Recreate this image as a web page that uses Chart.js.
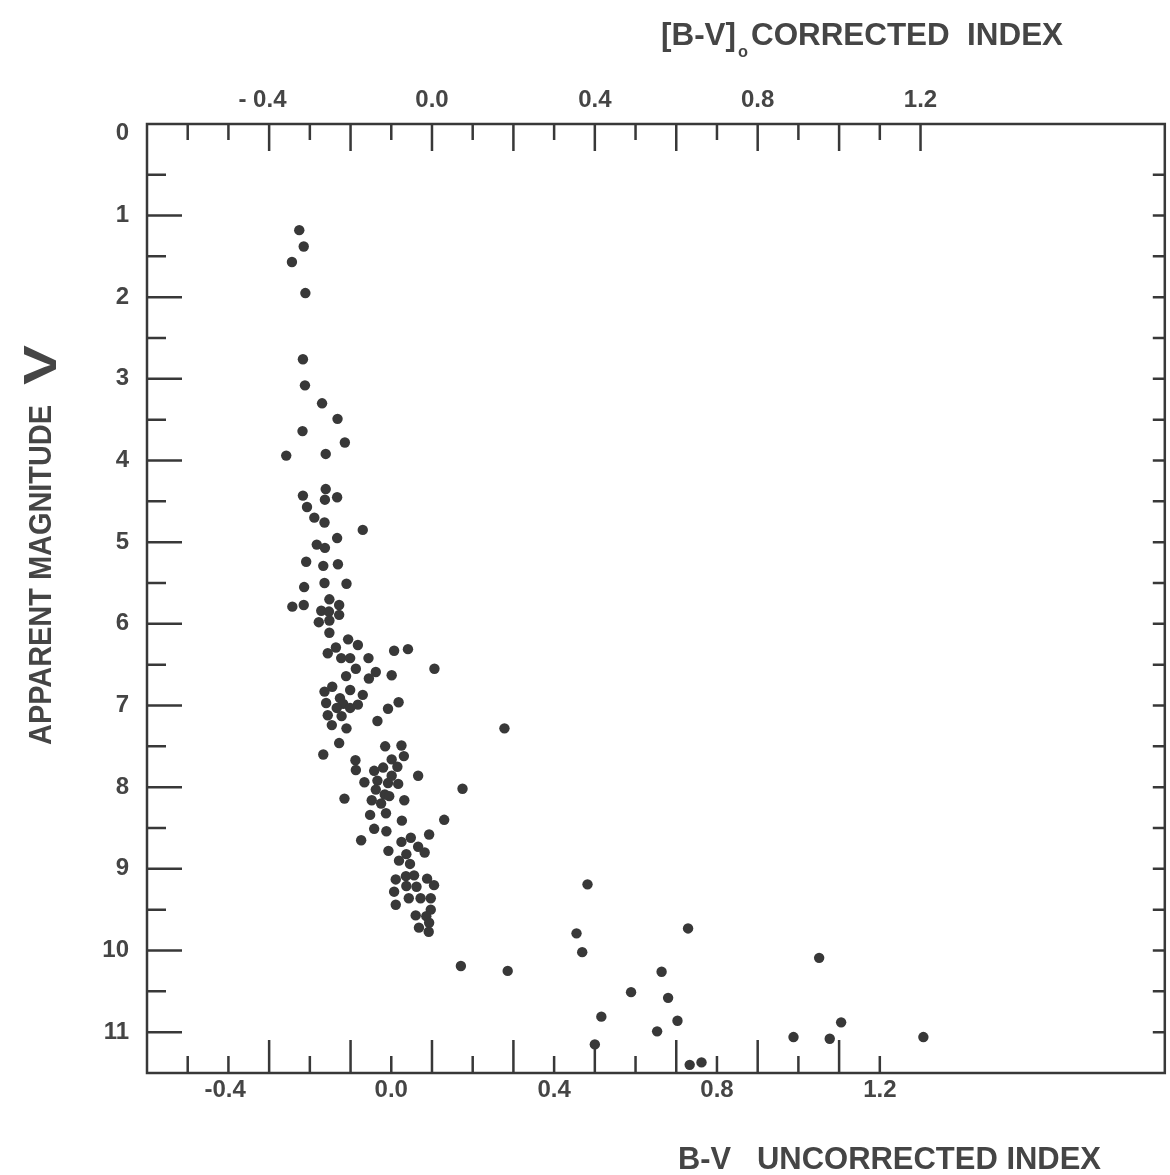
<!DOCTYPE html>
<html>
<head>
<meta charset="utf-8">
<script src="https://cdn.jsdelivr.net/npm/chart.js@4.4.1/dist/chart.umd.min.js"></script>
<style>
  html, body { margin: 0; padding: 0; background: #fff; }
</style>
</head>
<body>
<canvas id="hrChart" width="1170" height="1175"></canvas>
<script>
// B-V (uncorrected) colour index and apparent magnitude V, one entry per star
var colorIndex = [
  -0.226, -0.215, -0.244, -0.211, -0.217, -0.212, -0.170, -0.132, -0.218, -0.114,
  -0.258, -0.161, -0.161, -0.217, -0.163, -0.133, -0.207, -0.189, -0.164, -0.070,
  -0.133, -0.183, -0.163, -0.209, -0.167, -0.131, -0.214, -0.164, -0.110, -0.243,
  -0.215, -0.152, -0.128, -0.172, -0.153, -0.128, -0.178, -0.152, -0.152, -0.106,
  -0.082, -0.136, -0.156, 0.007, 0.041, -0.123, -0.101, -0.056, 0.106, -0.087,
  -0.111, -0.038, -0.055, 0.001, -0.145, -0.164, -0.101, -0.070, -0.160, -0.126,
  -0.118, -0.082, -0.134, -0.101, 0.018, -0.008, -0.156, -0.122, -0.034, -0.146,
  -0.110, -0.128, -0.167, -0.015, 0.025, -0.088, 0.001, 0.031, -0.087, -0.042,
  -0.020, 0.015, -0.066, -0.034, 0.001, -0.008, 0.017, 0.066, -0.115, -0.038,
  -0.016, -0.005, -0.048, -0.025, 0.032, -0.052, -0.013, 0.026, -0.042, -0.012,
  0.093, -0.074, 0.025, 0.048, 0.066, -0.007, 0.037, 0.082, 0.019, 0.046,
  0.011, 0.036, 0.056, 0.088, 0.037, 0.062, 0.105, 0.007, 0.043, 0.072,
  0.097, 0.011, 0.097, 0.060, 0.086, 0.093, 0.068, 0.092,
  0.278, 0.175, 0.130, 0.482, 0.455, 0.469, 0.171, 0.286, 0.729, 0.664,
  0.589, 0.680, 0.516, 0.703, 0.653, 0.500, 0.733, 0.762, 1.051, 1.105,
  0.988, 1.077, 1.307
];
var magnitude = [
  1.18, 1.38, 1.57, 1.95, 2.76, 3.08, 3.30, 3.49, 3.64, 3.78,
  3.94, 3.92, 4.35, 4.43, 4.48, 4.45, 4.57, 4.70, 4.76, 4.85,
  4.95, 5.03, 5.07, 5.24, 5.29, 5.27, 5.55, 5.50, 5.51, 5.79,
  5.77, 5.70, 5.77, 5.84, 5.85, 5.89, 5.98, 5.96, 6.11, 6.19,
  6.26, 6.29, 6.36, 6.33, 6.31, 6.42, 6.42, 6.42, 6.55, 6.55,
  6.64, 6.59, 6.67, 6.63, 6.77, 6.83, 6.81, 6.87, 6.97, 6.91,
  6.98, 6.99, 7.03, 7.03, 6.96, 7.04, 7.12, 7.13, 7.19, 7.24,
  7.28, 7.46, 7.60, 7.50, 7.49, 7.67, 7.66, 7.62, 7.79, 7.80,
  7.76, 7.75, 7.94, 7.92, 7.86, 7.95, 7.96, 7.86, 8.14, 8.03,
  8.09, 8.11, 8.16, 8.20, 8.16, 8.34, 8.32, 8.41, 8.51, 8.54,
  8.58, 8.65, 8.67, 8.62, 8.73, 8.78, 8.82, 8.80, 8.90, 8.94,
  9.13, 9.09, 9.08, 9.12, 9.21, 9.22, 9.20, 9.28, 9.36, 9.36,
  9.36, 9.44, 9.50, 9.57, 9.58, 9.66, 9.72, 9.77,
  7.28, 8.02, 8.40, 9.19, 9.79, 10.02, 10.19, 10.25, 9.73, 10.26,
  10.51, 10.58, 10.81, 10.86, 10.99, 11.15, 11.40, 11.37, 10.09, 10.88,
  11.06, 11.08, 11.06
];

// colour excess: corrected index = uncorrected - reddening
var reddening = 0.1;

// bottom axis (uncorrected)
var bottomTicks = [-0.5, -0.4, -0.3, -0.2, -0.1, 0, 0.1, 0.2, 0.3, 0.4, 0.5, 0.6, 0.7, 0.8, 0.9, 1.0, 1.1, 1.2];
var bottomLongTicks = [-0.3, -0.1, 0.1, 0.3, 0.5, 0.7, 0.9, 1.1];
var bottomLabels = [-0.4, 0, 0.4, 0.8, 1.2];

// top axis (corrected)
var topTicks = [-0.6, -0.5, -0.4, -0.3, -0.2, -0.1, 0, 0.1, 0.2, 0.3, 0.4, 0.5, 0.6, 0.7, 0.8, 0.9, 1.0, 1.1, 1.2];
var topLongTicks = [-0.4, -0.2, 0, 0.2, 0.4, 0.6, 0.8, 1.0, 1.2];
var topLabels = [-0.4, 0, 0.4, 0.8, 1.2];

// magnitude axis
var magLabels = [0, 1, 2, 3, 4, 5, 6, 7, 8, 9, 10, 11];
var magMinorTicks = [0.5, 1.5, 2.5, 3.5, 4.5, 5.5, 6.5, 7.5, 8.5, 9.5, 10.5];
var magRightTicks = [0.5, 1, 1.5, 2, 2.5, 3, 3.5, 4, 4.5, 5, 5.5, 6, 6.5, 7, 7.5, 8, 8.5, 9, 9.5, 10, 10.5, 11];

var INK = '#383838';
var TEXT = '#454545';
var FONT = '"Liberation Sans", Arial, Helvetica, sans-serif';

function inList(list, v) {
  return list.some(function (t) { return Math.abs(t - v) < 1e-6; });
}

function labelFor(list, gap) {
  return function (value) {
    if (!inList(list, value)) return '';
    var s = Math.abs(value).toFixed(1);
    // minus hangs left of the digits, digits stay centred on the tick
    return value < -1e-6 ? '-' + gap + s + ' ' + gap : s;
  };
}

var points = colorIndex.map(function (c, i) { return { x: c, y: magnitude[i] }; });

// frame and inward tick marks
var frameTicks = {
  id: 'frameTicks',
  beforeDatasetsDraw: function (chart) {
    var ctx = chart.ctx, a = chart.chartArea, s = chart.scales;
    ctx.save();
    ctx.strokeStyle = INK;
    ctx.lineWidth = 2.5;
    ctx.strokeRect(a.left, a.top, a.right - a.left, a.bottom - a.top);
    ctx.beginPath();
    bottomTicks.forEach(function (v) {
      var px = s.x.getPixelForValue(v);
      ctx.moveTo(px, a.bottom);
      ctx.lineTo(px, a.bottom - (inList(bottomLongTicks, v) ? 33 : 17));
    });
    topTicks.forEach(function (v) {
      var px = s.x2.getPixelForValue(v);
      ctx.moveTo(px, a.top);
      ctx.lineTo(px, a.top + (inList(topLongTicks, v) ? 27 : 16));
    });
    magLabels.forEach(function (v) {
      if (v === 0) return;
      var py = s.y.getPixelForValue(v);
      ctx.moveTo(a.left, py);
      ctx.lineTo(a.left + 35, py);
    });
    magMinorTicks.forEach(function (v) {
      var py = s.y.getPixelForValue(v);
      ctx.moveTo(a.left, py);
      ctx.lineTo(a.left + 19, py);
    });
    magRightTicks.forEach(function (v) {
      var py = s.y.getPixelForValue(v);
      ctx.moveTo(a.right, py);
      ctx.lineTo(a.right - 12, py);
    });
    ctx.stroke();
    ctx.restore();
  }
};

function fitText(ctx, text, x, y, width, font) {
  ctx.font = font;
  var w = ctx.measureText(text).width;
  ctx.save();
  ctx.translate(x, y);
  ctx.scale(width / w, 1);
  ctx.fillText(text, 0, 0);
  ctx.restore();
}

// axis titles
var titles = {
  id: 'titles',
  afterDraw: function (chart) {
    var ctx = chart.ctx;
    ctx.save();
    ctx.fillStyle = TEXT;
    ctx.textBaseline = 'alphabetic';
    ctx.textAlign = 'left';

    // top: [B-V]o CORRECTED INDEX
    fitText(ctx, '[B-V]', 661, 45, 75, 'bold 32px ' + FONT);
    fitText(ctx, 'o', 738, 57, 10, 'bold 17px ' + FONT);
    fitText(ctx, 'CORRECTED  INDEX', 751, 45, 312, 'bold 32px ' + FONT);

    // bottom
    fitText(ctx, 'B-V', 678, 1169, 53, 'bold 32px ' + FONT);
    fitText(ctx, 'UNCORRECTED INDEX', 757, 1169, 344, 'bold 32px ' + FONT);

    // left, rotated
    ctx.save();
    ctx.translate(51, 745);
    ctx.rotate(-Math.PI / 2);
    fitText(ctx, 'APPARENT MAGNITUDE', 0, 0, 340, 'bold 31px ' + FONT);
    ctx.restore();
    ctx.save();
    ctx.translate(56, 385);
    ctx.rotate(-Math.PI / 2);
    fitText(ctx, 'V', 0, 0, 40, 'bold 46px ' + FONT);
    ctx.restore();

    ctx.restore();
  }
};

var tickFont = { family: FONT, weight: 'bold', size: 24 };

new Chart(document.getElementById('hrChart'), {
  type: 'scatter',
  data: {
    datasets: [{
      data: points,
      xAxisID: 'x',
      yAxisID: 'y',
      backgroundColor: INK,
      borderWidth: 0,
      pointRadius: 5.2,
      pointHoverRadius: 5.2
    }]
  },
  options: {
    responsive: false,
    animation: false,
    devicePixelRatio: 1,
    layout: { padding: { left: 0, right: 1, top: 0, bottom: 0 } },
    plugins: { legend: { display: false }, tooltip: { enabled: false } },
    scales: {
      x: {
        type: 'linear',
        position: 'bottom',
        min: -0.6,
        max: 1.9,
        grid: { display: false },
        border: { display: false },
        afterBuildTicks: function (axis) { axis.ticks = bottomTicks.map(function (v) { return { value: v }; }); },
        afterFit: function (axis) { axis.height = 102; },
        ticks: { autoSkip: false, maxRotation: 0, padding: -5, color: TEXT, font: tickFont, callback: labelFor(bottomLabels, '') }
      },
      x2: {
        type: 'linear',
        position: 'top',
        min: -0.6 - reddening,
        max: 1.9 - reddening,
        grid: { display: false },
        border: { display: false },
        afterBuildTicks: function (axis) { axis.ticks = topTicks.map(function (v) { return { value: v }; }); },
        afterFit: function (axis) { axis.height = 124; },
        ticks: { autoSkip: false, maxRotation: 0, padding: 1, color: TEXT, font: tickFont, callback: labelFor(topLabels, ' ') }
      },
      y: {
        type: 'linear',
        position: 'left',
        reverse: true,
        min: -0.12,
        max: 11.5,
        grid: { display: false },
        border: { display: false },
        afterBuildTicks: function (axis) { axis.ticks = magLabels.map(function (v) { return { value: v }; }); },
        afterFit: function (axis) { axis.width = 147; },
        ticks: { autoSkip: false, padding: 10, color: TEXT, font: tickFont, callback: function (v) { return String(v); } }
      }
    }
  },
  plugins: [frameTicks, titles]
});
</script>
</body>
</html>
